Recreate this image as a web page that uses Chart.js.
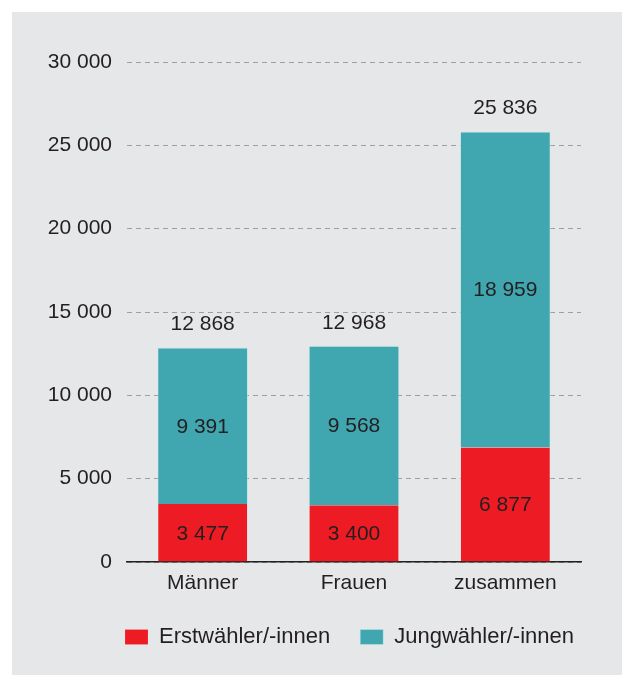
<!DOCTYPE html>
<html>
<head>
<meta charset="utf-8">
<script src="https://cdn.jsdelivr.net/npm/chart.js@4.4.1/dist/chart.umd.min.js"></script>
<style>
  html, body { margin: 0; padding: 0; background: #ffffff; }
  #panel { position: absolute; left: 12px; top: 12px; width: 610px; height: 663px; background: #e6e7e8; }
</style>
</head>
<body>
<div id="panel"><canvas id="wahlChart"></canvas></div>
<script>
// data
var categories = ["Männer", "Frauen", "zusammen"];
var erstwaehler = [3477, 3400, 6877];
var jungwaehler = [9391, 9568, 18959];
var totals = [12868, 12968, 25836];
var seriesNames = ["Erstwähler/-innen", "Jungwähler/-innen"];

var textColor = "#231f20";
var fontFamily = '"Liberation Sans", Arial, sans-serif';

function fmt(v) {
    return String(v).replace(/\B(?=(\d{3})+(?!\d))/g, " ");
}

// draws the numbers inside the segments and the totals above the bars
var valueLabels = {
    id: "valueLabels",
    afterDatasetsDraw: function(chart) {
        var ctx = chart.ctx;
        ctx.save();
        ctx.font = "21px " + fontFamily;
        ctx.fillStyle = textColor;
        ctx.textAlign = "center";
        ctx.textBaseline = "middle";
        chart.data.datasets.forEach(function(ds, di) {
            var meta = chart.getDatasetMeta(di);
            meta.data.forEach(function(bar, i) {
                ctx.fillText(fmt(ds.data[i]), bar.x, (bar.y + bar.base) / 2 + 1);
            });
        });
        var topMeta = chart.getDatasetMeta(chart.data.datasets.length - 1);
        topMeta.data.forEach(function(bar, i) {
            ctx.fillText(fmt(totals[i]), bar.x, bar.y - 23);
        });
        ctx.restore();
    }
};

// legend starts under the plot area, not at the canvas edge
var legendShift = {
    id: "legendShift",
    afterLayout: function(chart) {
        var lg = chart.legend;
        var dx = chart.chartArea.left - 2 - (lg.left + lg.options.labels.padding);
        lg.left += dx;
        lg.right += dx;
    }
};

var config = {
    type: "bar",
    data: {
        labels: categories,
        datasets: [{
            label: seriesNames[0],
            data: erstwaehler,
            backgroundColor: "#ed1c24",
            borderColor: "rgba(255,255,255,0.25)",
            borderWidth: { left: 1, right: 1, top: 0, bottom: 0 },
            barPercentage: 0.6,
            categoryPercentage: 1
        }, {
            label: seriesNames[1],
            data: jungwaehler,
            backgroundColor: "#40a6b0",
            borderColor: "rgba(190,235,238,0.6)",
            borderWidth: { left: 1, right: 1, top: 1, bottom: 0 },
            barPercentage: 0.6,
            categoryPercentage: 1
        }]
    },
    options: {
        responsive: true,
        maintainAspectRatio: false,
        animation: false,
        layout: {
            padding: { left: 0, right: 41, top: 50, bottom: 17 }
        },
        scales: {
            x: {
                stacked: true,
                grid: { display: false, drawTicks: false },
                border: { color: textColor, width: 1.5 },
                ticks: { color: textColor, font: { family: fontFamily, size: 21 }, padding: 9 },
                afterFit: function(s) { s.height = 34; }
            },
            y: {
                stacked: true,
                min: 0,
                max: 30000,
                ticks: {
                    stepSize: 5000,
                    padding: 15,
                    color: textColor,
                    font: { family: fontFamily, size: 21 },
                    callback: function(v) { return fmt(v); }
                },
                grid: { color: "#9d9fa2", lineWidth: 1, drawTicks: false },
                border: { display: false, dash: [5, 4] },
                afterFit: function(s) { s.width = 115; }
            }
        },
        plugins: {
            legend: {
                position: "bottom",
                align: "start",
                labels: {
                    boxWidth: 23,
                    boxHeight: 15,
                    padding: 30,
                    color: textColor,
                    font: { family: fontFamily, size: 22 }
                }
            },
            tooltip: { enabled: false }
        }
    },
    plugins: [valueLabels, legendShift]
};

var chartCtx = document.getElementById("wahlChart");
var wahlChart = new Chart(chartCtx, config);
</script>
</body>
</html>
